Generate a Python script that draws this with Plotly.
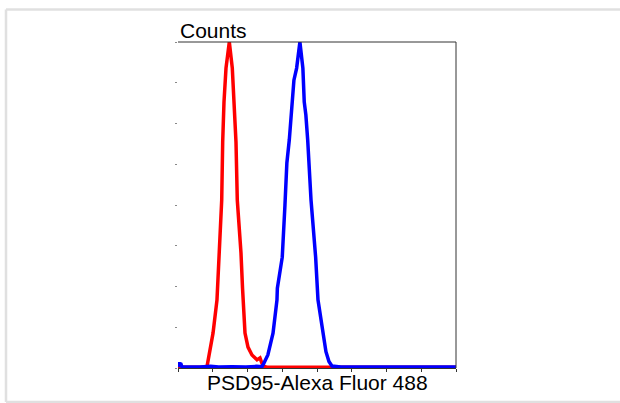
import plotly.graph_objects as go

# Fluorescence channel (0-1024) and counts (% of max)
red_x = [0, 50, 100, 107, 114, 129, 143.6, 151, 161, 164.6, 169.4, 176.8, 189,
         200, 206, 213.6, 218.4, 232, 237.7, 239.4, 246.8, 257.8, 272.5, 291, 302,
         313, 330, 1024]
red_y = [0.2, 0.2, 0.2, 0.5, 4, 10.7, 20.9, 35.3, 51.5, 69.3, 81.6, 92, 100,
         92, 81.6, 69.3, 51.5, 35.3, 24.5, 20.9, 10.7, 6.4, 4, 2.5, 3.1,
         0.6, 0.2, 0.2]

blue_x = [0, 3.7, 8, 11, 14.7, 40, 80, 120, 150, 200, 250, 290, 309, 313, 331,
          350, 364.6, 366, 384, 394, 401, 410, 422, 425, 427, 437, 449, 460,
          465, 471, 477.7, 490, 507, 515.6, 534, 545, 556, 567, 600, 1024]
blue_y = [0.3, 1.3, 1.3, 1.2, 0.3, 0.2, 0.3, 0.5, 0.3, 0.4, 0.3, 0.5, 0.4, 0.9, 4,
          10.7, 20.9, 24.5, 34, 50, 62.9, 70, 81.6, 85, 88.3, 92, 100, 92,
          81.6, 77.6, 70, 51.5, 34, 20.9, 10.7, 5, 2, 0.6, 0.3, 0.3]

x_title = "PSD95-Alexa Fluor 488"
y_title = "Counts"

fig = go.Figure()
fig.add_trace(go.Scatter(x=red_x, y=red_y, mode="lines",
                         line=dict(color="#ff0000", width=3.5), showlegend=False))
fig.add_trace(go.Scatter(x=blue_x, y=blue_y, mode="lines",
                         line=dict(color="#0000ff", width=3.5), showlegend=False))

border = dict(color="#e0e0e0", width=2.5)
fig.update_layout(
    width=620, height=403,
    margin=dict(l=178, r=164, t=42, b=35),
    paper_bgcolor="white", plot_bgcolor="white",
    font=dict(family="Liberation Sans, Arial", color="black"),
    xaxis=dict(range=[0, 1024], dtick=128, tick0=0, showticklabels=False,
               ticks="outside", ticklen=3, tickcolor="#333", showgrid=False,
               zeroline=False, showline=True, linecolor="#333", linewidth=1,
               fixedrange=True),
    yaxis=dict(range=[0, 100], dtick=12.5, tick0=0, showticklabels=False,
               ticks="outside", ticklen=2, tickcolor="#888", showgrid=False,
               zeroline=False, showline=False, fixedrange=True),
    shapes=[
        dict(type="line", xref="paper", yref="paper", x0=0, x1=1, y0=1, y1=1,
             line=dict(color="#333", width=1)),
        dict(type="line", xref="paper", yref="paper", x0=1, x1=1, y0=0, y1=1,
             line=dict(color="#333", width=1)),
        dict(type="line", xref="paper", yref="paper", x0=-0.6187, x1=1.62,
             y0=1.100, y1=1.100, line=border, layer="below"),
        dict(type="line", xref="paper", yref="paper", x0=-0.6187, x1=1.62,
             y0=-0.104, y1=-0.104, line=border, layer="below"),
        dict(type="line", xref="paper", yref="paper", x0=-0.6187, x1=-0.6187,
             y0=-0.104, y1=1.100, line=border, layer="below"),
    ],
    annotations=[
        dict(text=y_title, xref="paper", yref="paper", x=0.0, y=1.035,
             xanchor="left", yanchor="middle", showarrow=False,
             font=dict(size=21)),
        dict(text=x_title, xref="paper", yref="paper", x=0.5, y=-0.046,
             xanchor="center", yanchor="middle", showarrow=False,
             font=dict(size=21)),
    ],
)

fig.write_html("out.html", config={"displayModeBar": False},
               post_script="document.body.style.margin='0';document.body.style.overflow='hidden';")
